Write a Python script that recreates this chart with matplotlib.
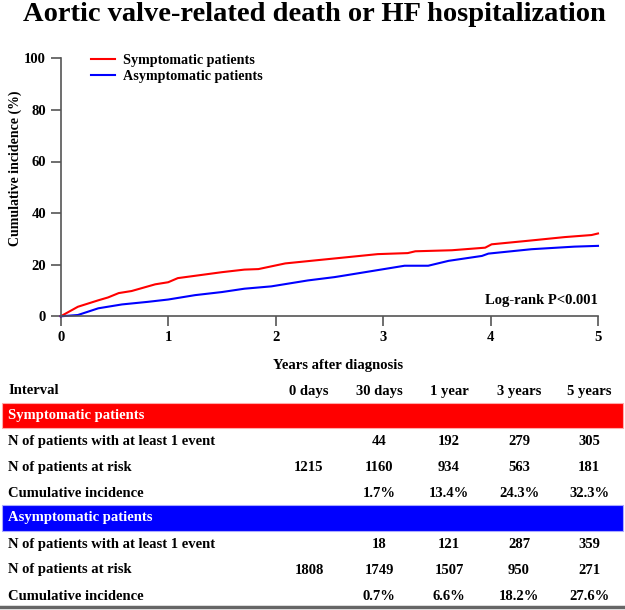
import matplotlib
matplotlib.use('Agg')
import matplotlib.pyplot as plt
from matplotlib.patches import Rectangle
from matplotlib.lines import Line2D

# curve values (years, cumulative incidence %)
sym_years = [0, 0.16, 0.35, 0.44, 0.54, 0.66, 0.88, 1.0, 1.09, 1.34, 1.5, 1.71, 1.84,
             2.09, 2.40, 2.64, 2.95, 3.23, 3.30, 3.64, 3.95, 4.01, 4.38, 4.69, 4.94, 5.0]
sym_inc = [0, 3.7, 6.2, 7.3, 9.0, 9.8, 12.4, 13.2, 14.8, 16.2, 17.1, 18.1, 18.3,
           20.5, 21.8, 22.8, 24.1, 24.5, 25.2, 25.6, 26.6, 27.9, 29.4, 30.7, 31.5, 32.1]
asym_years = [0, 0.16, 0.35, 0.57, 0.81, 1.0, 1.25, 1.5, 1.71, 1.96, 2.30, 2.55, 2.64,
              2.92, 3.20, 3.42, 3.61, 3.92, 3.98, 4.38, 4.78, 5.0]
asym_inc = [0, 0.5, 3.1, 4.6, 5.6, 6.5, 8.2, 9.4, 10.7, 11.6, 13.9, 15.2, 15.8,
            17.7, 19.6, 19.6, 21.5, 23.4, 24.3, 26.0, 27.0, 27.3]

# table
col_labels = ['0 days', '30 days', '1 year', '3 years', '5 years']
row_labels = ['N of patients with at least 1 event', 'N of patients at risk', 'Cumulative incidence']
sym_table = [['', '44', '192', '279', '305'],
             ['1215', '1160', '934', '563', '181'],
             ['', '1.7%', '13.4%', '24.3%', '32.3%']]
asym_table = [['', '18', '121', '287', '359'],
              ['1808', '1749', '1507', '950', '271'],
              ['', '0.7%', '6.6%', '18.2%', '27.6%']]

plt.rcParams['font.family'] = ['Liberation Serif', 'DejaVu Serif']
plt.rcParams['font.weight'] = 'bold'

W, H = 625, 610
fig = plt.figure(figsize=(W / 100, H / 100), dpi=100)

def fx(px):
    return px / W

def fy(py):
    return 1 - py / H

# axes: x 60.7..598 px, y 58.3..316.3 px
ax = fig.add_axes([fx(60.7), fy(316.3), fx(598 - 60.7), (316.3 - 58.3) / H])
ax.plot(sym_years, sym_inc, color='#ff0000', lw=1.5, clip_on=False, label='Symptomatic patients')
ax.plot(asym_years, asym_inc, color='#0000ff', lw=1.5, clip_on=False, label='Asymptomatic patients')
ax.set_xlim(0, 5)
ax.set_ylim(0, 100)
ax.set_xticks(range(6))
ax.set_yticks(range(0, 101, 20))
for s in ['top', 'right']:
    ax.spines[s].set_visible(False)
for s in ['left', 'bottom']:
    ax.spines[s].set_color('#555555')
    ax.spines[s].set_linewidth(1.2)
ax.tick_params(colors='#555555', width=1.2, length=7, labelsize=10.5, labelcolor='black')
for lab in ax.get_xticklabels() + ax.get_yticklabels():
    lab.set_fontweight('bold')
ax.set_ylabel('Cumulative incidence (%)', fontsize=10, fontweight='bold')
ax.yaxis.set_label_coords(-0.072, 0.573)
ax.text(5, 6, 'Log-rank P<0.001', ha='right', va='center', fontsize=10.5, fontweight='bold')
ax.legend(loc='upper left', bbox_to_anchor=(0.0564, 1.018), frameon=False,
          borderpad=0, borderaxespad=0, labelspacing=0.25, handlelength=1.7, handletextpad=0.55,
          prop={'weight': 'bold', 'size': 10.2})

fig.text(fx(314), fy(21), 'Aortic valve-related death or HF hospitalization', ha='center', va='baseline',
         fontsize=20.5, fontweight='bold')
fig.text(fx(338), fy(366), 'Years after diagnosis', ha='center', va='center', fontsize=10.5, fontweight='bold')

# table
col_x = [309, 379, 449, 519, 589]
fs = 10.5
fig.text(fx(8), fy(391), 'Interval', ha='left', va='center', fontsize=fs, fontweight='bold')
for cx, c in zip(col_x, col_labels):
    fig.text(fx(cx), fy(391), c, ha='center', va='center', fontsize=fs, fontweight='bold')

def group(top, bottom, color, title, values, rows_y):
    fig.patches.append(Rectangle((fx(2), fy(bottom)), fx(621), (bottom - top) / H,
                                 transform=fig.transFigure, facecolor=color,
                                 edgecolor='#ffaaaa' if color == '#ff0000' else '#aaaaff', lw=0.8))
    fig.text(fx(8), fy((top + bottom) / 2), title, ha='left', va='center', fontsize=fs,
             fontweight='bold', color='white')
    for ry, lab, vals in zip(rows_y, row_labels, values):
        fig.text(fx(8), fy(ry), lab, ha='left', va='center', fontsize=fs, fontweight='bold')
        for cx, v in zip(col_x, vals):
            fig.text(fx(cx), fy(ry), v, ha='center', va='center', fontsize=fs, fontweight='bold')

group(402.7, 428.3, '#ff0000', 'Symptomatic patients', sym_table, [441.7, 467.3, 493.3])
group(505, 531, '#0000ff', 'Asymptomatic patients', asym_table, [544.7, 570, 596])

fig.lines.append(Line2D([0, 1], [fy(607), fy(607)], transform=fig.transFigure, color='#666666', lw=2.5))

fig.savefig('out.png', dpi=100)
